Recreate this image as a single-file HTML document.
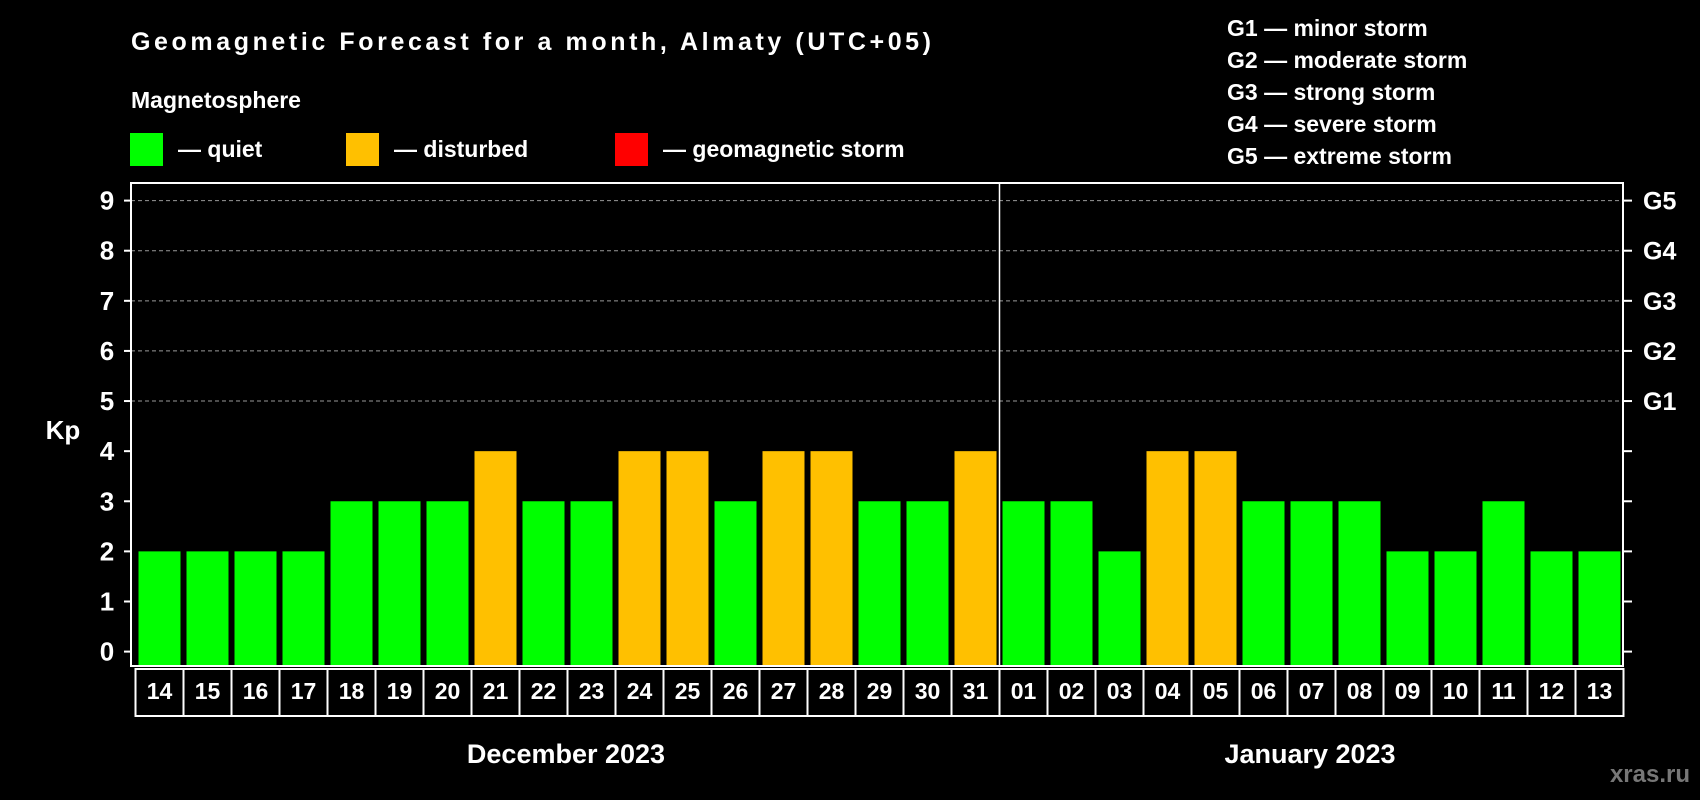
<!DOCTYPE html>
<html><head><meta charset="utf-8"><style>
html,body{margin:0;padding:0;background:#000;}
svg{display:block;font-family:"Liberation Sans",Arial,sans-serif;font-weight:bold;}
</style></head><body>
<svg id="chart" width="1700" height="800" viewBox="0 0 1700 800">
<rect x="0" y="0" width="1700" height="800" fill="#000"/>
<text x="131" y="50" fill="#fff" font-size="25" textLength="800">Geomagnetic Forecast for a month, Almaty (UTC+05)</text>
<text x="131" y="108" fill="#fff" font-size="23">Magnetosphere</text>
<g><rect x="130" y="133" width="33" height="33" fill="#00ff00"/><text x="178" y="157" fill="#fff" font-size="23">— quiet</text></g>
<g><rect x="346" y="133" width="33" height="33" fill="#ffc000"/><text x="394" y="157" fill="#fff" font-size="23">— disturbed</text></g>
<g><rect x="615" y="133" width="33" height="33" fill="#ff0000"/><text x="663" y="157" fill="#fff" font-size="23">— geomagnetic storm</text></g>
<g font-size="23" fill="#fff">
<text x="1227" y="36">G1 — minor storm</text>
<text x="1227" y="68">G2 — moderate storm</text>
<text x="1227" y="100">G3 — strong storm</text>
<text x="1227" y="132">G4 — severe storm</text>
<text x="1227" y="164">G5 — extreme storm</text>
</g>
<g id="grid"></g>
<g id="bars"></g>
<g id="axes"></g>
<text x="63" y="439" fill="#fff" font-size="26" text-anchor="middle">Kp</text>
<text x="566" y="763" fill="#fff" font-size="27" text-anchor="middle">December 2023</text>
<text x="1310" y="763" fill="#fff" font-size="27" text-anchor="middle">January 2023</text>
<text x="1690" y="782" fill="#777" font-size="24" text-anchor="end">xras.ru</text>
</svg>
<script>
const days = ["14","15","16","17","18","19","20","21","22","23","24","25","26","27","28","29","30","31","01","02","03","04","05","06","07","08","09","10","11","12","13"];
const kp = [2,2,2,2,3,3,3,4,3,3,4,4,3,4,4,3,3,4,3,3,2,4,4,3,3,3,2,2,3,2,2];
const yTicks = [0,1,2,3,4,5,6,7,8,9];
const gLabels = ["G1","G2","G3","G4","G5"];
const NS="http://www.w3.org/2000/svg";
const L=131,R=1623,T=183,B=666,boxL=135.5,boxW=48;
const y0=651.6,y9=200.6;
function yS(v){return y0-(y0-y9)*v/9;}
function xS(i){return boxL+boxW*i;}
function mk(tag,attrs,parent){const e=document.createElementNS(NS,tag);for(const k in attrs)e.setAttribute(k,attrs[k]);parent.appendChild(e);return e;}
const grid=document.getElementById('grid'),bars=document.getElementById('bars'),axes=document.getElementById('axes');
gLabels.forEach((g,j)=>{const v=5+j;
 const ln=mk('line',{x1:L,x2:R,y1:yS(v),y2:yS(v),stroke:'#999','stroke-dasharray':'4 3','stroke-width':1},grid);
 
 
 const t=mk('text',{x:1643,y:yS(v)+9,fill:'#fff','font-size':25},axes);t.textContent=g;
 
 
});
function color(v){return v>=5?'#ff0000':(v>=4?'#ffc000':'#00ff00');}
kp.forEach((v,i)=>{
 const r=mk('rect',{x:xS(i)+3,y:yS(v),width:42,height:B-yS(v),fill:color(v)},bars);
 
 
 const bx=mk('rect',{x:xS(i),y:669,width:boxW,height:47,fill:'none',stroke:'#fff','stroke-width':2},axes);
 
 
 const t=mk('text',{x:xS(i)+boxW/2,y:699,fill:'#fff','font-size':23,'text-anchor':'middle'},axes);t.textContent=days[i];
 
 
});
const fr=mk('rect',{x:L,y:T,width:R-L,height:B-T,fill:'none',stroke:'#fff','stroke-width':2},axes);


const dv=mk('line',{x1:xS(18),x2:xS(18),y1:T,y2:B,stroke:'#fff','stroke-width':1.5},axes);


yTicks.forEach(v=>{
 mk('line',{x1:L-7,x2:L,y1:yS(v),y2:yS(v),stroke:'#fff','stroke-width':2},axes);
 mk('line',{x1:R,x2:R+9,y1:yS(v),y2:yS(v),stroke:'#fff','stroke-width':2},axes);
 const t=mk('text',{x:107,y:yS(v)+9,fill:'#fff','font-size':26,'text-anchor':'middle'},axes);t.textContent=v;
 
 
});
</script>
</body></html>
